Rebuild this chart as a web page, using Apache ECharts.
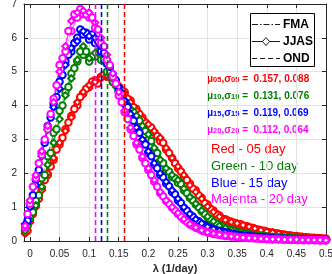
<!DOCTYPE html>
<html><head><meta charset="utf-8">
<script src="https://cdn.jsdelivr.net/npm/echarts@6/dist/echarts.min.js"></script>
<style>html,body{margin:0;padding:0;background:#fff}#c{width:332px;height:274px}</style>
</head><body><div id="c"></div>
<script>
// lambda grids (1/day)
const lamA = [-0.008,0,0.01,0.02,0.03,0.04,0.05,0.06,0.07,0.08,0.09,0.10,0.11,0.12,0.13,0.14,0.15,0.16,0.17,0.18,0.19,0.20,0.21,0.22,0.23,0.24,0.25,0.26,0.27,0.28,0.29,0.30,0.31,0.32,0.33,0.34,0.35,0.36,0.37,0.38,0.39,0.40,0.41,0.42,0.43,0.44,0.45,0.46,0.47,0.48,0.49,0.50];
const lamB = [-0.004,0.005,0.015,0.025,0.035,0.045,0.055,0.065,0.075,0.085,0.095,0.105,0.115,0.125,0.135,0.145,0.155,0.165,0.175,0.185,0.195,0.205,0.215,0.225,0.235,0.245,0.255,0.265,0.275,0.285,0.295,0.305,0.315,0.325,0.335,0.345,0.355,0.365,0.375,0.385,0.395,0.405,0.415,0.425,0.435,0.445,0.455,0.465,0.475,0.485,0.495];

// Red - 05 day
const red_JJAS = [0.22,0.55,1.0,1.5,2.0,2.45,2.9,3.25,3.65,4.1,4.4,4.6,4.7,4.8,4.9,4.8,4.6,4.35,4.1,3.85,3.6,3.45,3.25,3.05,2.75,2.45,2.2,1.95,1.65,1.45,1.25,1.02,0.86,0.72,0.62,0.56,0.52,0.47,0.42,0.37,0.32,0.28,0.25,0.22,0.19,0.16,0.14,0.12,0.1,0.09,0.08,0.07];
const red_FMA = [0.25,0.6,1.1,1.55,1.95,2.4,2.85,3.3,3.7,4.0,4.35,4.55,4.75,4.85,4.85,4.7,4.55,4.4,4.15,3.9,3.65,3.4,3.2,2.95,2.7,2.45,2.15,1.9,1.7,1.5,1.28,1.08,0.9,0.75,0.64,0.57,0.5,0.45,0.4,0.35,0.31,0.27,0.24,0.21,0.18,0.16,0.14,0.12,0.1,0.09,0.08,0.07];
const red_OND = [0.3,0.8,1.25,1.8,2.2,2.7,3.05,3.5,3.9,4.25,4.5,4.7,4.65,4.9,4.85,4.7,4.45,4.2,3.95,3.75,3.5,3.35,3.1,2.9,2.6,2.3,2.05,1.8,1.55,1.35,1.12,0.95,0.8,0.66,0.6,0.54,0.5,0.44,0.39,0.34,0.3,0.26,0.23,0.2,0.17,0.15,0.13,0.11,0.095,0.085,0.075];
// Green - 10 day
const green_JJAS = [0.3,0.62,1.05,1.6,2.25,2.9,3.6,4.3,4.8,5.35,5.75,5.4,5.55,5.5,5.2,4.8,4.45,4.15,3.9,3.7,3.4,3.15,2.75,2.4,2.15,1.95,1.8,1.55,1.3,1.1,0.9,0.72,0.58,0.45,0.38,0.32,0.27,0.23,0.2,0.17,0.15,0.13,0.12,0.1,0.09,0.08,0.07,0.06,0.06,0.05,0.05,0.04];
const green_FMA = [0.35,0.7,1.2,1.85,2.5,3.2,3.85,4.4,4.95,5.3,5.5,5.3,5.45,5.35,5.0,4.7,4.4,4.1,3.85,3.6,3.3,3.0,2.65,2.35,2.1,1.9,1.72,1.5,1.28,1.08,0.88,0.7,0.56,0.46,0.38,0.32,0.27,0.23,0.2,0.17,0.15,0.13,0.11,0.1,0.09,0.08,0.07,0.06,0.06,0.05,0.05,0.04];
const green_OND = [0.45,0.85,1.35,1.95,2.6,3.3,4.0,4.55,5.1,5.6,5.6,5.45,5.6,5.35,5.0,4.6,4.3,4.0,3.8,3.55,3.25,2.95,2.6,2.3,2.05,1.85,1.68,1.42,1.2,1.0,0.8,0.64,0.52,0.42,0.35,0.3,0.25,0.21,0.18,0.16,0.14,0.12,0.11,0.1,0.09,0.08,0.07,0.06,0.055,0.05,0.045];
// Blue - 15 day
const blue_JJAS = [0.5,1.0,1.65,2.5,3.3,3.95,4.5,5.2,5.7,5.9,6.2,6.05,6.0,5.75,5.35,4.95,4.55,4.15,3.75,3.35,3.0,2.65,2.3,2.0,1.75,1.5,1.25,1.0,0.8,0.64,0.52,0.42,0.35,0.3,0.26,0.22,0.19,0.16,0.14,0.12,0.1,0.09,0.08,0.07,0.06,0.06,0.05,0.05,0.04,0.04,0.04,0.03];
const blue_FMA = [0.45,1.1,1.8,2.6,3.4,4.05,4.7,5.3,5.6,6.0,6.1,5.95,5.85,5.6,5.25,4.85,4.45,4.05,3.65,3.3,2.95,2.6,2.25,1.95,1.7,1.45,1.2,0.98,0.78,0.62,0.5,0.41,0.34,0.29,0.25,0.21,0.18,0.15,0.13,0.11,0.1,0.09,0.08,0.07,0.06,0.05,0.05,0.04,0.04,0.04,0.03,0.03];
const blue_OND = [0.6,1.35,2.1,2.9,3.65,4.25,4.9,5.5,5.85,6.25,6.15,6.1,5.9,5.55,5.15,4.75,4.35,3.95,3.55,3.2,2.85,2.5,2.15,1.88,1.62,1.38,1.12,0.9,0.72,0.58,0.47,0.38,0.32,0.28,0.24,0.2,0.17,0.15,0.13,0.11,0.1,0.08,0.07,0.065,0.06,0.05,0.045,0.04,0.04,0.035,0.03];
// Majenta - 20 day
const mag_JJAS = [0.45,1.2,1.95,2.65,3.4,4.1,5.0,5.75,6.5,6.75,6.8,6.75,6.45,6.0,5.5,4.95,4.4,3.85,3.35,2.9,2.5,2.15,1.8,1.45,1.2,1.0,0.83,0.65,0.5,0.4,0.32,0.26,0.22,0.19,0.16,0.14,0.12,0.1,0.09,0.08,0.07,0.06,0.05,0.05,0.04,0.04,0.04,0.03,0.03,0.03,0.03,0.02];
const mag_FMA = [0.4,1.1,1.85,2.55,3.3,4.2,5.2,5.6,6.2,6.6,6.7,6.6,6.3,5.85,5.35,4.85,4.3,3.8,3.3,2.85,2.45,2.1,1.75,1.42,1.18,0.98,0.8,0.63,0.49,0.39,0.31,0.25,0.21,0.18,0.15,0.13,0.11,0.1,0.09,0.08,0.07,0.06,0.05,0.05,0.04,0.04,0.03,0.03,0.03,0.03,0.02,0.02];
const mag_OND = [0.8,1.6,2.3,3.0,3.75,4.6,5.4,6.2,6.7,6.85,6.7,6.6,6.25,5.75,5.2,4.65,4.1,3.6,3.1,2.7,2.3,1.95,1.6,1.32,1.1,0.9,0.72,0.57,0.45,0.36,0.29,0.24,0.2,0.17,0.15,0.13,0.11,0.095,0.085,0.075,0.065,0.055,0.05,0.045,0.04,0.035,0.03,0.03,0.03,0.025,0.02];

// mean lines (two close dashed lines per colour)
const meanRed = [0.157, 0.160];
const meanGreen = [0.131, 0.134];
const meanBlue = [0.118, 0.121];
const meanMag = [0.111, 0.114];

const xTicks = [0,0.05,0.1,0.15,0.2,0.25,0.3,0.35,0.4,0.45,0.5];

const seasons = ['FMA','JJAS','OND'];
const labelRows = [
  ['05','0.157, 0.088'],
  ['10','0.131, 0.076'],
  ['15','0.119, 0.069'],
  ['20','0.112, 0.064']
];
const nameRows = ['Red - 05 day','Green - 10 day','Blue - 15 day','Majenta - 20 day'];

const C = {r:'#ff0000', g:'#007f00', b:'#0000ff', m:'#ff00ff'};
const FONT = 'Liberation Sans, Arial, Helvetica, sans-serif';
const AX = '#262626';
const DASHDOT = [6,2,1.5,2];

function mk(name, color, xs, ys, ltype, symbol) {
  return {
    type:'line', name:name, data: xs.map((x,i)=>[x, ys[i]]),
    symbol: symbol, symbolSize: 6.5, showSymbol: true,
    lineStyle:{color:color, width:0.8, type:ltype},
    itemStyle:{color:color, borderColor:color, borderWidth:0.7},
    emphasis:{disabled:true}, silent:true, z:2
  };
}
const groups = [
  [C.r, red_FMA, red_JJAS, red_OND],
  [C.g, green_FMA, green_JJAS, green_OND],
  [C.b, blue_FMA, blue_JJAS, blue_OND],
  [C.m, mag_FMA, mag_JJAS, mag_OND]
];
const series = [];
groups.forEach((g,k)=>{
  series.push(mk('fma'+k, g[0], lamA, g[1], DASHDOT, 'emptyCircle'));
  series.push(mk('ond'+k, g[0], lamB, g[3], 'dashed', 'emptyCircle'));
  series.push(mk('jjas'+k, g[0], lamA, g[2], 'solid', 'emptyDiamond'));
});
// mean lines
const mlData = [];
[[meanRed,C.r],[meanGreen,C.g],[meanBlue,C.b],[meanMag,C.m]].forEach(p=>{
  p[0].forEach(v=>mlData.push({xAxis:v, lineStyle:{color:p[1], width:1.3, type:[5,3]}}));
});
series.push({type:'line', name:'means', data:[], z:5, markLine:{silent:true, symbol:['none','none'], label:{show:false}, animation:false, data:mlData}});

// legend (drawn as graphic)
const graphics = [];
graphics.push({type:'rect', left:250, top:13, z:10, silent:true, shape:{width:64, height:53}, style:{fill:'#fff', stroke:'#000', lineWidth:1}});
const legDash = [DASHDOT, null, [5,3]];
seasons.forEach((s,i)=>{
  const y = 24.5 + i*17;
  graphics.push({type:'line', z:11, silent:true, shape:{x1:252, y1:y, x2:280, y2:y}, style:{stroke:'#000', lineWidth:0.9, lineDash:legDash[i]}});
  graphics.push({type:'text', z:11, silent:true, x:283, y:y, style:{text:s, fill:'#000', font:'bold 12px '+FONT, verticalAlign:'middle', textAlign:'left'}});
});
graphics.push({type:'polygon', z:12, silent:true, shape:{points:[[266,37.5],[269.5,41.5],[266,45.5],[262.5,41.5]]}, style:{fill:'#fff', stroke:'#000', lineWidth:0.9}});

labelRows.forEach((r,i)=>{
  const col = [C.r,C.g,C.b,C.m][i];
  graphics.push({type:'text', left:207, top:74 + i*17, silent:true, style:{
    text:'{a|μ}{b|'+r[0]+'}{a|,σ}{b|'+r[0]+'}{a| =  '+r[1]+'}',
    fill:col, font:'bold 10px '+FONT,
    rich:{
      a:{fontSize:10, fontWeight:'bold', fill:col, fontFamily:FONT, lineHeight:10, padding:[0,0,3,0], verticalAlign:'top'},
      b:{fontSize:7.5, fontWeight:'bold', fill:col, fontFamily:FONT, lineHeight:7, verticalAlign:'bottom'}
    }}});
});
nameRows.forEach((t,i)=>{
  graphics.push({type:'text', left:211, top:143 + i*16.8, silent:true, style:{
    text:t, fill:[C.r,C.g,C.b,C.m][i], font:'13px '+FONT}});
});

const chart = echarts.init(document.getElementById('c'), null, {renderer:'canvas'});
chart.setOption({
  animation:false,
  backgroundColor:'#fff',
  grid:{left:24, right:6, top:4, bottom:33, containLabel:false, outerBoundsMode:'none'},
  xAxis:[
    {type:'value', min:-0.01, max:0.5, position:'bottom',
     axisLine:{show:true, onZero:false, lineStyle:{color:AX, width:1}},
     axisTick:{show:true, inside:true, length:4, customValues:xTicks, lineStyle:{color:AX}},
     axisLabel:{customValues:xTicks, fontSize:10, color:AX, margin:8, fontFamily:FONT, formatter:v=>String(+v.toFixed(2))},
     splitLine:{show:true, lineStyle:{color:'#e3e3e3', width:1}},
     name:'λ (1/day)', nameLocation:'middle', nameGap:21,
     nameTextStyle:{fontWeight:'bold', fontSize:11, color:AX, fontFamily:FONT}},
    {type:'value', min:-0.01, max:0.5, position:'top',
     axisLine:{show:true, onZero:false, lineStyle:{color:AX, width:1}},
     axisTick:{show:true, inside:true, length:4, customValues:xTicks, lineStyle:{color:AX}},
     axisLabel:{show:false}, splitLine:{show:false}}
  ],
  yAxis:[
    {type:'value', min:0, max:7, interval:1,
     axisLine:{show:true, onZero:false, lineStyle:{color:AX, width:1}},
     axisTick:{show:true, inside:true, length:4, lineStyle:{color:AX}},
     axisLabel:{fontSize:10, color:AX, margin:7, fontFamily:FONT},
     splitLine:{show:true, lineStyle:{color:'#e3e3e3', width:1}},
     name:'PDF : P(λ)', nameLocation:'middle', nameGap:12,
     nameTextStyle:{fontWeight:'bold', fontSize:11, color:AX, fontFamily:FONT, padding:[0,0,0,10]}},
    {type:'value', min:0, max:7, interval:1, position:'right',
     axisLine:{show:true, onZero:false, lineStyle:{color:AX, width:1}},
     axisTick:{show:true, inside:true, length:4, lineStyle:{color:AX}},
     axisLabel:{show:false}, splitLine:{show:false}}
  ],
  series: series,
  graphic: graphics
});
</script></body></html>
